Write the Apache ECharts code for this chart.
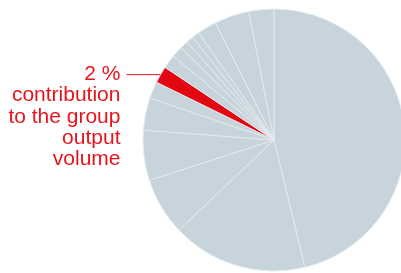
<!DOCTYPE html>
<html>
<head>
<meta charset="utf-8">
<script src="https://cdn.jsdelivr.net/npm/echarts@6/dist/echarts.min.js"></script>
<style>
  html, body { margin: 0; padding: 0; background: #fff; }
  #chart { width: 401px; height: 273px; }
</style>
</head>
<body>
<div id="chart"></div>
<script>
// share of each company in group output, clockwise from 12 o'clock
var shares = [46.4, 16.8, 7.1, 6.2, 4.0, 2.1, 2.1, 1.7, 1.4, 1.0, 0.9, 0.9, 2.4, 4.3, 3.1];
var highlightIndex = 6; // the red slice
var highlightLabel = '2 %\ncontribution\nto the group\noutput\nvolume';

var chart = echarts.init(document.getElementById('chart'));

var pieData = shares.map(function (v, i) {
  var item = { value: v, name: 'c' + i };
  if (i === highlightIndex) {
    item.name = highlightLabel;
    item.itemStyle = { color: '#e30613' };
    item.label = { show: true };
    item.labelLine = { show: true };
  }
  return item;
});

var option = {
  backgroundColor: '#ffffff',
  animation: false,
  series: [
    {
      type: 'pie',
      center: [274, 140],
      radius: [0, 131],
      startAngle: 90,
      clockwise: true,
      data: pieData,
      itemStyle: {
        color: '#c8d4dc',
        borderColor: '#e4eaee',
        borderWidth: 1
      },
      label: {
        show: false,
        position: 'outside',
        formatter: '{b}',
        overflow: 'none',
        color: '#e8141c',
        fontFamily: 'Liberation Sans',
        fontSize: 21,
        lineHeight: 21.3,
        align: 'right'
      },
      labelLine: {
        show: false,
        length: 0,
        length2: 34,
        smooth: false,
        lineStyle: { color: '#e8141c', width: 1 }
      },
      labelLayout: function (p) {
        var pts = p.labelLinePoints;
        if (!pts) return {};
        var end = pts[pts.length - 1];
        return {
          x: end[0] - 6,
          y: end[1] - 11,
          align: 'right',
          verticalAlign: 'top',
          labelLinePoints: pts
        };
      },
      emphasis: { disabled: true }
    }
  ]
};

option && chart.setOption(option);
</script>
</body>
</html>
